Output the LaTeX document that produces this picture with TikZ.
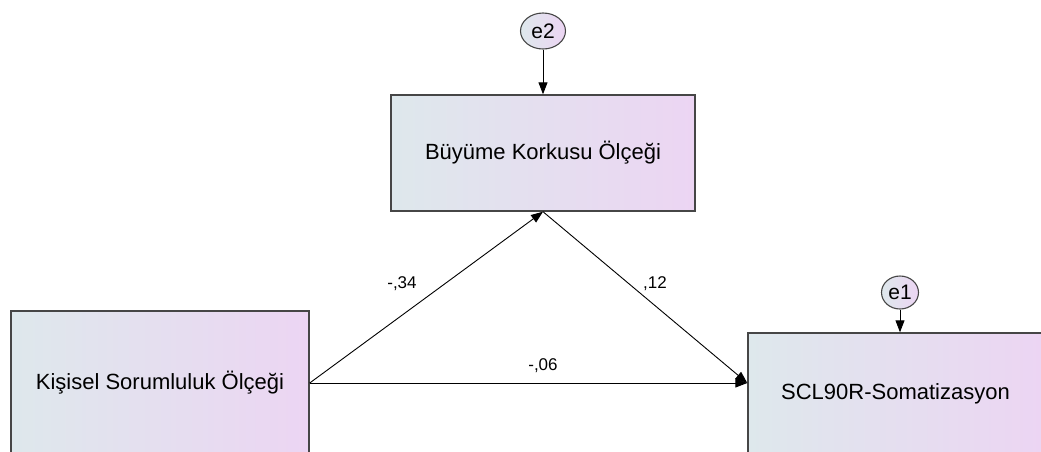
\documentclass[tikz,border=0pt]{standalone}
\usepackage{fontspec}
\setmainfont{Liberation Sans}
\usetikzlibrary{arrows.meta,shapes.geometric}

\definecolor{shadeL}{RGB}{222,232,236}
\definecolor{shadeR}{RGB}{236,213,243}
\definecolor{rim}{RGB}{70,70,70}

\tikzset{
  varbox/.style={draw=rim, line width=1.4pt, left color=shadeL, right color=shadeR,
    inner sep=0pt, font=\fontsize{22}{26}\selectfont},
  errnode/.style={ellipse, draw=rim, line width=1.1pt, left color=shadeL, right color=shadeR,
    inner sep=0pt, font=\fontsize{21}{24}\selectfont},
  path/.style={draw, line width=0.9pt, -{Triangle[length=12pt,width=9pt]}},
  coef/.style={font=\fontsize{17}{20}\selectfont}
}

\begin{document}
\begin{tikzpicture}[x=1pt, y=-1pt]
\useasboundingbox (0,0) rectangle (1041,451);
\fill[white] (0,0) rectangle (1041,451);

% observed variables
\node[varbox, minimum width=304pt, minimum height=116pt] (bko) at (543,153) {Büyüme Korkusu Ölçeği};
\node[varbox, minimum width=298pt, minimum height=144pt] (kso) at (160,383) {Kişisel Sorumluluk Ölçeği};
\node[varbox, minimum width=295pt, minimum height=122pt] (scl) at (895.5,394) {SCL90R-Somatizasyon};

% error terms
\node[errnode, minimum width=45pt, minimum height=36pt] (e2) at (543,31) {e2};
\node[errnode, minimum width=37pt, minimum height=33pt] (e1) at (900,292.5) {e1};

\coordinate (sclin) at (scl.west |- kso.east);

% paths
\draw[path] (e2) -- (bko.north);
\draw[path] (e1) -- (e1 |- scl.north);
\draw[path] (kso.east) -- (bko.south);
\draw[path] (bko.south) -- (sclin);
\draw[path] (kso.east) -- (sclin);

% coefficients
\node[coef] (c34) at (402,284) {-,34};
\node[coef] (c12) at (655,284) {,12};
\node[coef] (c06) at (543,366) {-,06};

\end{tikzpicture}
\end{document}
